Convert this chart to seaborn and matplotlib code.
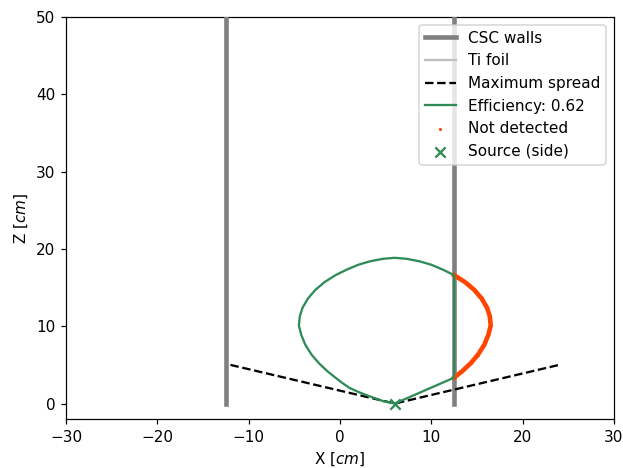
import matplotlib as mpl
mpl.use('Agg')
import matplotlib.pyplot as plt
import numpy as np
import pandas as pd
import seaborn as sns

# geometry (cm)
wall_x = [-12.5, 12.5]
wall_z = [0, 50]
spread_x = [-12, 6, 24]
spread_z = [5, 0, 5]
source_x = [6]
source_z = [0]
efficiency = 0.62

# acceptance contour: source, right side going up, top, left side going down
curve_x = [6.0,
           12.5, 13.4, 14.3, 15.1, 15.8, 16.25, 16.5, 16.4, 16.1, 15.5, 14.7, 13.7,
           12.5, 11.3, 10.0, 8.7, 7.3, 6.0,
           4.7, 3.3, 2.0, 0.7, -0.5, -1.7, -2.7, -3.5, -4.1, -4.4, -4.5, -4.25, -3.8,
           -3.1, -2.3, -1.4, -0.5, 0.2, 1.0, 2.0, 3.2, 4.8, 6.0]
curve_z = [0.0,
           3.35, 4.2, 5.2, 6.3, 7.6, 8.9, 10.1, 11.3, 12.4, 13.6, 14.7, 15.7,
           16.6, 17.3, 17.95, 18.4, 18.72, 18.85,
           18.72, 18.4, 17.95, 17.3, 16.6, 15.7, 14.7, 13.6, 12.4, 11.3, 10.1, 8.9, 7.6,
           6.3, 5.2, 4.2, 3.35, 2.7, 2.05, 1.5, 0.95, 0.28, 0.0]

df = pd.DataFrame({'x': curve_x, 'z': curve_z})
df['x_det'] = df['x'].clip(upper=wall_x[1])
lost = df[df['x'] >= wall_x[1]]

f, ax = plt.subplots(figsize=(623 / 110, 468 / 110), dpi=110)
plt.subplots_adjust(left=0.106, right=0.9855, top=0.9637, bottom=0.1047)

for i, wx in enumerate(wall_x):
    ax.plot([wx, wx], wall_z, color='grey', lw=3, zorder=3,
            label='CSC walls' if i == 0 else None)
    ax.plot([wx, wx], wall_z, color='silver', lw=1.5, zorder=2,
            label='Ti foil' if i == 0 else None)

sns.lineplot(x=spread_x, y=spread_z, ax=ax, color='black', linestyle='--',
             sort=False, estimator=None, label='Maximum spread', zorder=4)
sns.lineplot(data=df, x='x_det', y='z', ax=ax, color='seagreen', lw=1.5,
             sort=False, estimator=None, label='Efficiency: %.2f' % efficiency, zorder=5)
ax.plot(lost['x'], lost['z'], color='orangered', lw=3, zorder=4)
sns.scatterplot(data=lost, x='x', y='z', ax=ax, color='orangered', s=4,
                linewidth=0, label='Not detected', zorder=4)
sns.scatterplot(x=source_x, y=source_z, ax=ax, color='seagreen', marker='x',
                s=45, linewidth=1.5, label='Source (side)', zorder=6)

ax.set_xlim(-30, 30)
ax.set_ylim(-2, 50)
ax.set_xlabel('X [$cm$]')
ax.set_ylabel('Z [$cm$]')
ax.legend(loc='upper right')

plt.savefig('out.png')
